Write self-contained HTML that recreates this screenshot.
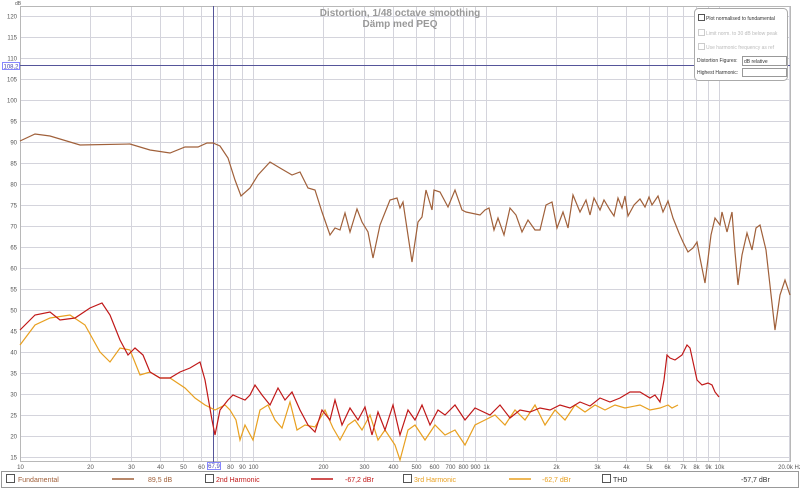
<!DOCTYPE html>
<html><head><meta charset="utf-8"><style>
body{margin:0;background:#fff;}
svg{display:block;font-family:"Liberation Sans",sans-serif;}
</style></head><body>
<svg width="800" height="489" viewBox="0 0 800 489" xmlns="http://www.w3.org/2000/svg">
<rect width="800" height="489" fill="#fff"/>
<g id="grid" stroke="#d4d4dc" stroke-width="1"></g>
<rect x="20.5" y="6.5" width="770" height="455" fill="none" stroke="#b8b8b8"/>
<g id="ylab" font-size="6" fill="#555" text-anchor="end"></g>
<g id="xlab" font-size="6" fill="#555" text-anchor="middle"></g>
<text x="15" y="5" font-size="5" fill="#555">dB</text>
<text x="400" y="16" font-size="10" fill="#999" font-weight="bold" text-anchor="middle">Distortion, 1/48 octave smoothing</text>
<text x="400" y="27" font-size="10" fill="#999" font-weight="bold" text-anchor="middle">Dämp med PEQ</text>
<line x1="20" y1="65.5" x2="790" y2="65.5" stroke="#55559a" stroke-width="1"/>
<line x1="213.5" y1="6" x2="213.5" y2="462" stroke="#55559a" stroke-width="1"/>
<rect x="2.5" y="62.5" width="17" height="7" fill="#fff" stroke="#55f" stroke-width="0.7"/>
<text x="11" y="68.5" font-size="6" fill="#44a" text-anchor="middle">108,2</text>
<rect x="207.5" y="462.5" width="13" height="7" fill="#fff" stroke="#55f" stroke-width="0.7"/>
<text x="214" y="468" font-size="6" fill="#44a" text-anchor="middle">67,9</text>
<polyline fill="none" stroke="#a0603a" stroke-width="1.2" points="20,141 35,134 50,136 80,145 130,144 150,150 170,153 185,147 198,147 207,143 213,143 220,146 228,158 235,180 241,196 250,188 258,175 270,162 280,168 292,175 300,172 308,188 315,190 322,212 330,235 335,228 340,230 345,213 350,232 357,209 362,222 368,232 373,258 380,225 390,200 397,198 400,208 403,202 412,262 418,222 422,217 426,190 432,210 434,190 440,192 448,207 455,190 462,210 466,212 480,215 485,210 489,208 494,230 498,218 504,235 510,208 516,215 522,232 528,220 535,230 540,230 546,205 552,202 557,228 563,212 568,228 573,195 580,212 586,200 590,215 594,198 600,210 604,200 610,210 614,216 618,198 622,208 625,196 628,216 634,205 640,199 645,207 649,197 652,205 658,196 663,212 668,201 673,218 679,233 683,242 688,252 693,248 697,242 700,258 705,283 711,235 715,218 720,225 722,212 727,232 732,212 735,252 738,285 742,255 747,233 752,250 756,228 760,225 766,250 775,330 780,295 785,280 790,295"/>
<polyline fill="none" stroke="#e8a020" stroke-width="1.2" points="20,345 35,325 50,318 70,315 85,325 100,352 110,362 120,348 130,350 140,375 150,372 160,378 170,378 185,388 195,398 205,405 215,410 225,405 230,410 236,420 240,440 245,425 253,440 260,410 268,405 275,420 282,428 290,402 297,430 305,425 315,427 325,410 333,428 340,440 348,425 355,420 362,430 370,415 378,440 385,430 395,445 400,460 408,430 415,425 425,440 435,425 445,435 455,430 465,445 475,425 485,420 495,415 505,425 515,410 525,420 535,405 545,425 555,410 565,420 575,405 585,412 595,405 605,410 615,405 625,408 640,405 650,410 660,408 668,405 672,408 678,405"/>
<polyline fill="none" stroke="#c01818" stroke-width="1.2" points="20,330 35,315 50,312 60,320 75,318 90,308 102,303 110,315 120,340 128,355 135,348 143,355 150,372 160,378 170,378 180,372 190,368 200,362 205,380 212,420 215,435 220,410 228,400 233,395 240,398 245,400 250,395 255,385 262,395 270,405 278,388 285,400 292,392 300,410 308,425 315,432 322,410 330,420 335,400 342,425 350,408 358,420 365,407 372,435 378,412 385,430 393,405 400,435 408,410 415,420 422,405 430,425 438,410 445,415 455,405 465,420 475,408 490,415 500,405 510,418 520,410 530,412 540,408 550,410 560,405 570,408 580,402 590,406 600,398 610,402 620,398 630,392 640,392 650,398 655,395 660,402 664,380 667,355 670,358 675,360 682,355 687,345 690,348 697,380 702,385 708,383 712,385 715,392 719,397"/>
<g font-size="5" fill="#333">
<rect x="694.5" y="8.5" width="93" height="72" rx="4" fill="#fff" stroke="#aaa"/>
<rect x="698.5" y="14.5" width="6" height="6" fill="#fff" stroke="#555"/>
<text x="706" y="20">Plot normalised to fundamental</text>
<rect x="698.5" y="29.5" width="6" height="6" fill="#fff" stroke="#ccc"/>
<text x="706" y="35" fill="#bbb">Limit norm. to 30 dB below peak</text>
<rect x="698.5" y="43.5" width="6" height="6" fill="#fff" stroke="#ccc"/>
<text x="706" y="49" fill="#bbb">Use harmonic frequency as ref</text>
<text x="697" y="62">Distortion Figures:</text>
<rect x="742.5" y="56.5" width="44" height="9" fill="#fff" stroke="#999"/>
<text x="744" y="63">dB relative</text>
<text x="697" y="74">Highest Harmonic:</text>
<rect x="742.5" y="68.5" width="44" height="8" fill="#fff" stroke="#999"/>
</g>
<rect x="1.5" y="471.5" width="797" height="16" fill="#fff" stroke="#999"/>
<g font-size="7">
<rect x="6.5" y="474.5" width="8" height="8" fill="#fff" stroke="#555"/>
<text x="18" y="482" fill="#a0603a">Fundamental</text>
<line x1="112" y1="479" x2="134" y2="479" stroke="#a0603a" stroke-width="1.5"/>
<text x="148" y="482" fill="#a0603a">89,5 dB</text>
<rect x="205.5" y="474.5" width="8" height="8" fill="#fff" stroke="#555"/>
<text x="216" y="482" fill="#c01818">2nd Harmonic</text>
<line x1="311" y1="479" x2="333" y2="479" stroke="#c01818" stroke-width="1.5"/>
<text x="345" y="482" fill="#c01818">-67,2 dBr</text>
<rect x="403.5" y="474.5" width="8" height="8" fill="#fff" stroke="#555"/>
<text x="414" y="482" fill="#e8a020">3rd Harmonic</text>
<line x1="509" y1="479" x2="531" y2="479" stroke="#e8a020" stroke-width="1.5"/>
<text x="542" y="482" fill="#e8a020">-62,7 dBr</text>
<rect x="602.5" y="474.5" width="8" height="8" fill="#fff" stroke="#555"/>
<text x="613" y="482" fill="#333">THD</text>
<text x="741" y="482" fill="#333">-57,7 dBr</text>
</g>
<script>
(function(){
var ns="http://www.w3.org/2000/svg";
var g=document.getElementById("grid"),yl=document.getElementById("ylab"),xl=document.getElementById("xlab");
function Y(v){return 16+(120-v)*4.2;}
function X(f){return 20+233*Math.log10(f/10);}
for(var v=15;v<=120;v+=5){var y=Math.round(Y(v))+0.5;var l=document.createElementNS(ns,"line");l.setAttribute("x1",20);l.setAttribute("x2",790);l.setAttribute("y1",y);l.setAttribute("y2",y);g.appendChild(l);
var t=document.createElementNS(ns,"text");t.setAttribute("x",17);t.setAttribute("y",y+2);t.textContent=v;yl.appendChild(t);}
var fs=[],labs={10:"10",20:"20",30:"30",40:"40",50:"50",60:"60",80:"80",90:"90",100:"100",200:"200",300:"300",400:"400",500:"500",600:"600",700:"700",800:"800",900:"900",1000:"1k",2000:"2k",3000:"3k",4000:"4k",5000:"5k",6000:"6k",7000:"7k",8000:"8k",9000:"9k",10000:"10k"};
[10,100,1000,10000].forEach(function(d){for(var k=1;k<10;k++){if(d*k<=20000)fs.push(d*k);}});
fs.push(20000);
fs.forEach(function(f){var x=Math.round(X(f))+0.5;var l=document.createElementNS(ns,"line");l.setAttribute("x1",x);l.setAttribute("x2",x);l.setAttribute("y1",6);l.setAttribute("y2",462);g.appendChild(l);
if(labs[f]){var t=document.createElementNS(ns,"text");t.setAttribute("x",x);t.setAttribute("y",469);t.textContent=labs[f];xl.appendChild(t);}});
var t=document.createElementNS(ns,"text");t.setAttribute("x",790);t.setAttribute("y",469);t.textContent="20.0k Hz";xl.appendChild(t);
})();
</script>
</svg>
</body></html>
